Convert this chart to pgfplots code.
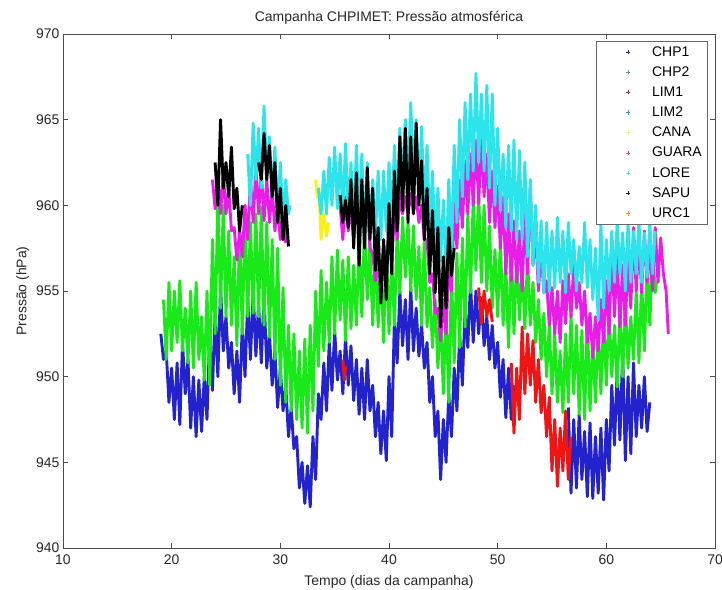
\documentclass[border=0pt]{standalone}
\usepackage{fontspec}
\setmainfont{Liberation Sans}
\usepackage{pgfplots}
\pgfplotsset{compat=1.18}
\definecolor{sBlue}{RGB}{35,35,205}
\definecolor{sGreen}{RGB}{25,232,25}
\definecolor{sMag}{RGB}{232,30,232}
\definecolor{sCyan}{RGB}{45,228,236}
\definecolor{sRed}{RGB}{240,20,20}
\definecolor{sYel}{RGB}{250,240,20}
\definecolor{lchp1}{RGB}{40,40,130}
\definecolor{lchp2}{RGB}{110,150,110}
\definecolor{llim1}{RGB}{150,40,90}
\definecolor{llim2}{RGB}{60,160,160}
\definecolor{lcana}{RGB}{240,230,140}
\definecolor{lguara}{RGB}{220,80,130}
\definecolor{llore}{RGB}{110,215,225}
\definecolor{lsapu}{RGB}{20,20,40}
\definecolor{lurc}{RGB}{230,150,60}
\newcommand{\fs}{\fontsize{14}{16}\selectfont}
\begin{document}
\begin{tikzpicture}
\begin{axis}[name=ax, scale only axis, width=652bp, height=514bp,
  xmin=10, xmax=70, ymin=940, ymax=970,
  xtick={10,20,...,70}, ytick={940,945,...,970},
  tick align=inside, major tick length=5bp,
  axis line style={black!70, line width=0.7bp},
  every tick/.style={black!70, line width=0.7bp},
  /pgf/number format/assume math mode=true,
  /pgf/number format/1000 sep={},
  tick label style={font=\fs, text=black!85},
  xticklabel style={yshift=-3bp},
  xlabel={Tempo (dias da campanha)}, ylabel={Pressão (hPa)},
  label style={font=\fs, text=black!85},
  xlabel style={yshift=-4bp},
  title={Campanha CHPIMET: Pressão atmosférica},
  title style={font=\fs, text=black!85},
  legend style={at={(1,1)}, anchor=north east, xshift=-7bp, yshift=-7bp,
    draw=black!60, line width=0.6bp, font=\fs, row sep=5bp, inner xsep=4bp, inner ysep=3bp},
  legend cell align=left,
  legend image code/.code={\path[draw=none, fill=none] (0bp,-3bp) rectangle (50bp,3bp); \draw[#1] plot coordinates {(28bp,0bp)};},
  ser/.style={line width=2.9bp, line join=round, no marks, forget plot},
  lm/.style={mark=+, mark size=2.2bp, mark options={line width=0.6bp}},
]
% CHP1 (blue)
\addplot[ser, sBlue] coordinates {(19.00,952.5)(19.25,951.0)(19.50,951.5)(19.75,948.5)(20.00,950.5)(20.25,947.5)(20.50,950.8)(20.75,947.2)(21.00,952.0)(21.25,949.0)(21.50,951.0)(21.75,947.0)(22.00,950.0)(22.25,946.5)(22.50,949.8)(22.75,946.8)(23.00,950.0)(23.25,947.5)(23.50,952.5)(23.75,949.2)(24.00,953.8)(24.25,950.0)(24.50,955.3)(24.75,951.5)(25.00,953.5)(25.25,950.5)(25.50,952.0)(25.75,949.0)(26.00,951.5)(26.25,948.5)(26.50,953.0)(26.75,950.0)(27.00,954.5)(27.25,951.0)(27.50,955.0)(27.75,951.2)(28.00,954.3)(28.25,950.8)(28.50,954.8)(28.75,950.5)(29.00,952.5)(29.25,949.5)(29.50,951.5)(29.75,948.2)(30.00,950.5)(30.25,948.0)(30.50,949.5)(30.75,946.5)(31.00,948.2)(31.25,945.8)(31.50,946.5)(31.75,943.5)(32.00,945.0)(32.25,942.6)(32.50,944.8)(32.75,942.4)(33.00,946.5)(33.25,944.0)(33.50,949.0)(33.75,947.5)(34.00,950.8)(34.25,948.0)(34.50,952.0)(34.75,949.2)(35.00,952.7)(35.25,949.8)(35.50,951.5)(35.75,949.0)(36.00,952.3)(36.25,949.5)(36.50,951.8)(36.75,948.6)(37.00,951.0)(37.25,947.8)(37.50,950.5)(37.75,947.5)(38.00,951.0)(38.25,948.0)(38.50,949.5)(38.75,946.5)(39.00,948.5)(39.25,945.5)(39.50,948.0)(39.75,945.1)(40.00,950.0)(40.25,946.5)(40.50,953.5)(40.75,950.8)(41.00,955.0)(41.25,951.8)(41.50,954.5)(41.75,951.0)(42.00,955.2)(42.25,951.5)(42.50,954.0)(42.75,951.2)(43.00,953.0)(43.25,950.5)(43.50,952.0)(43.75,948.5)(44.00,950.0)(44.25,946.5)(44.50,948.0)(44.75,944.0)(45.00,947.5)(45.25,945.0)(45.50,949.0)(45.75,946.5)(46.00,950.5)(46.25,948.0)(46.50,952.5)(46.75,949.5)(47.00,954.0)(47.25,951.7)(47.50,955.5)(47.75,952.0)(48.00,955.0)(48.25,952.5)(48.50,954.6)(48.75,951.8)(49.00,953.5)(49.25,951.0)(49.50,953.0)(49.75,950.5)(50.00,952.0)(50.25,948.8)(50.50,951.0)(50.75,947.6)(51.00,950.5)(51.25,947.5)(51.50,949.5)};
\addplot[ser, sBlue] coordinates {(56.50,948.2)(56.75,943.2)(57.00,947.5)(57.25,943.5)(57.50,947.8)(57.75,944.0)(58.00,946.8)(58.25,943.0)(58.50,947.3)(58.75,942.9)(59.00,946.5)(59.25,943.2)(59.50,947.0)(59.75,942.8)(60.00,947.5)(60.25,944.5)(60.50,949.5)(60.75,946.0)(61.00,950.5)(61.25,946.3)(61.50,951.4)(61.75,945.1)(62.00,950.0)(62.25,945.5)(62.50,950.8)(62.75,946.5)(63.00,949.5)(63.25,947.0)(63.50,950.0)(63.75,946.8)(64.00,948.5)};
% CHP2 (green)
\addplot[ser, sGreen] coordinates {(19.25,954.5)(19.50,951.0)(19.75,955.5)(20.00,951.5)(20.25,955.0)(20.50,952.0)(20.75,955.6)(21.00,951.5)(21.25,954.0)(21.50,950.8)(21.75,955.0)(22.00,950.5)(22.25,955.5)(22.50,951.0)(22.75,953.5)(23.00,949.8)(23.25,955.0)(23.50,949.5)(23.75,958.0)(24.00,952.5)(24.25,960.5)(24.50,954.0)(24.75,960.0)(25.00,953.5)(25.25,958.5)(25.50,953.0)(25.75,957.0)(26.00,951.8)(26.25,958.5)(26.50,952.5)(26.75,959.3)(27.00,953.5)(27.25,959.0)(27.50,953.7)(27.75,959.5)(28.00,953.5)(28.25,959.9)(28.50,953.0)(28.75,959.0)(29.00,952.3)(29.25,958.0)(29.50,951.0)(29.75,957.5)(30.00,949.5)(30.25,955.2)(30.50,948.5)(30.75,953.0)(31.00,948.0)(31.25,952.5)(31.50,947.5)(31.75,951.5)(32.00,947.0)(32.25,952.2)(32.50,946.7)(32.75,953.0)(33.00,948.0)(33.25,955.0)(33.50,950.6)(33.75,956.2)(34.00,951.5)(34.25,955.5)(34.50,952.0)(34.75,957.0)(35.00,952.5)(35.25,957.4)(35.50,953.3)(35.75,956.8)(36.00,952.1)(36.25,957.0)(36.50,952.8)(36.75,956.5)(37.00,953.0)(37.25,958.0)(37.50,953.5)(37.75,958.7)(38.00,954.5)(38.25,957.8)(38.50,953.0)(38.75,957.6)(39.00,952.9)(39.25,956.8)(39.50,952.0)(39.75,957.6)(40.00,952.5)(40.25,957.0)(40.50,953.0)(40.75,958.5)(41.00,954.9)(41.25,959.3)(41.50,955.8)(41.75,959.0)(42.00,955.0)(42.25,958.8)(42.50,954.5)(42.75,957.6)(43.00,953.0)(43.25,958.0)(43.50,952.9)(43.75,955.2)(44.00,951.7)(44.25,954.5)(44.50,950.5)(44.75,953.8)(45.00,949.0)(45.25,954.0)(45.50,948.5)(45.75,956.0)(46.00,950.8)(46.25,957.2)(46.50,951.7)(46.75,958.1)(47.00,952.9)(47.25,959.5)(47.50,954.9)(47.75,960.3)(48.00,956.2)(48.25,960.7)(48.50,955.5)(48.75,960.0)(49.00,955.0)(49.25,958.8)(49.50,954.0)(49.75,957.4)(50.00,953.5)(50.25,958.0)(50.50,953.0)(50.75,956.5)(51.00,951.7)(51.25,957.6)(51.50,952.5)(51.75,957.0)(52.00,953.3)(52.25,956.5)(52.50,952.8)(52.75,957.0)(53.00,953.0)(53.25,955.5)(53.50,952.0)(53.75,954.5)(54.00,951.0)(54.25,953.7)(54.50,950.0)(54.75,953.0)(55.00,949.0)(55.25,952.5)(55.50,948.5)(55.75,951.5)(56.00,947.9)(56.25,952.5)(56.50,948.5)(56.75,953.7)(57.00,949.0)(57.25,953.0)(57.50,947.8)(57.75,952.7)(58.00,947.5)(58.25,953.5)(58.50,948.0)(58.75,952.0)(59.00,948.5)(59.25,953.0)(59.50,949.0)(59.75,953.5)(60.00,949.5)(60.25,954.0)(60.50,950.0)(60.75,953.0)(61.00,949.4)(61.25,953.8)(61.50,950.0)(61.75,954.5)(62.00,950.5)(62.25,953.5)(62.50,951.0)(62.75,955.0)(63.00,950.8)(63.25,955.6)(63.50,951.5)(63.75,956.5)(64.00,953.0)(64.25,957.6)(64.50,954.9)(64.60,955.5)};
% LIM1 (magenta)
\addplot[ser, sMag] coordinates {(23.75,961.5)(24.00,959.8)(24.25,961.7)(24.50,959.5)(24.75,961.9)(25.00,959.5)(25.25,961.0)(25.50,958.5)(25.75,958.7)(26.00,956.8)(26.25,958.5)(26.50,957.0)(26.75,960.0)(27.00,958.0)(27.25,961.5)(27.50,959.0)(27.75,962.2)(28.00,959.5)(28.25,962.0)(28.50,959.1)(28.75,961.5)(29.00,959.0)(29.25,961.0)(29.50,958.5)(29.75,960.0)(30.00,958.0)(30.25,959.5)(30.50,957.8)};
\addplot[ser, sMag] coordinates {(35.50,960.0)(35.75,958.0)(36.00,960.5)(36.25,958.5)(36.50,960.0)(36.75,958.0)(37.00,960.5)(37.25,958.8)(37.50,960.7)(37.75,959.1)(38.00,960.0)(38.25,957.5)(38.50,957.2)(38.75,955.6)(39.00,957.0)(39.25,955.8)(39.50,957.5)(39.75,956.0)(40.00,958.5)(40.25,956.5)(40.50,960.0)(40.75,958.0)(41.00,960.7)(41.25,959.5)(41.50,960.5)(41.75,959.5)(42.00,960.7)(42.25,959.6)(42.50,960.5)(42.75,959.0)(43.00,960.0)(43.25,958.0)(43.50,958.0)(43.75,955.5)(44.00,956.0)(44.25,953.7)(44.50,954.0)(44.75,952.1)(45.00,954.5)(45.25,952.5)(45.50,956.5)(45.75,955.0)(46.00,960.1)(46.25,957.5)(46.50,961.5)(46.75,958.7)(47.00,962.6)(47.25,959.5)(47.50,963.0)(47.75,960.0)(48.00,963.8)(48.25,960.1)(48.50,964.0)(48.75,960.5)(49.00,963.0)(49.25,959.0)(49.50,962.0)(49.75,958.7)(50.00,961.1)(50.25,957.5)(50.50,960.5)(50.75,956.0)(51.00,959.5)(51.25,955.6)(51.50,959.1)(51.75,955.5)(52.00,958.5)(52.25,955.0)(52.50,959.5)(52.75,956.0)(53.00,961.1)(53.25,956.5)(53.50,958.5)(53.75,955.0)(54.00,957.5)(54.25,954.9)(54.50,955.6)(54.75,953.0)(55.00,955.2)(55.25,952.5)(55.50,955.0)(55.75,952.0)(56.00,955.6)(56.25,953.1)(56.50,956.0)(56.75,953.5)(57.00,956.5)(57.25,954.0)(57.50,955.5)(57.75,953.0)(58.00,955.0)(58.25,952.0)(58.50,953.7)(58.75,951.1)(59.00,953.5)(59.25,951.5)(59.50,954.5)(59.75,952.0)(60.00,955.6)(60.25,952.5)(60.50,957.6)(60.75,953.5)(61.00,957.0)(61.25,952.9)(61.50,956.5)(61.75,953.0)(62.00,957.0)(62.25,954.0)(62.50,958.7)(62.75,955.0)(63.00,958.0)(63.25,954.9)(63.50,958.5)(63.75,955.5)(64.00,957.5)(64.25,955.0)(64.50,958.7)(64.75,955.5)(65.00,958.1)(65.25,956.0)(65.50,955.0)(65.70,952.5)};
% CANA (yellow)
\addplot[ser, sYel] coordinates {(33.25,961.5)(33.40,960.5)(33.55,961.0)(33.75,958.0)(34.00,959.5)(34.25,958.2)(34.45,959.0)};
% GUARA (red)
\addplot[ser, sRed] coordinates {(35.75,951.0)(35.90,949.8)(36.00,950.6)};
\addplot[ser, sRed] coordinates {(48.25,955.2)(48.50,953.1)(48.75,955.0)(49.00,953.5)(49.25,954.5)(49.50,953.2)};
\addplot[ser, sRed] coordinates {(51.25,950.8)(51.50,946.7)(51.75,950.5)(52.00,947.5)(52.25,952.9)(52.50,949.0)(52.75,952.5)(53.00,949.5)(53.25,952.1)(53.50,948.5)(53.75,951.0)(54.00,947.9)(54.25,949.5)(54.50,946.5)(54.75,948.8)(55.00,944.5)(55.25,947.5)(55.50,943.6)(55.75,947.0)(56.00,944.5)(56.25,948.0)(56.50,944.0)(56.75,946.5)};
% LORE (cyan)
\addplot[ser, sCyan] coordinates {(27.00,963.0)(27.25,960.0)(27.50,964.8)(27.75,961.5)(28.00,964.5)(28.25,961.0)(28.50,965.8)(28.75,961.8)(29.00,964.0)(29.25,960.5)(29.50,963.4)(29.75,959.5)(30.00,962.5)(30.25,959.1)(30.50,961.5)(30.75,959.5)(30.90,960.0)};
\addplot[ser, sCyan] coordinates {(33.50,961.0)(33.75,959.5)(34.00,962.0)(34.25,959.5)(34.50,962.8)(34.75,960.0)(35.00,963.4)(35.25,959.8)(35.50,963.0)(35.75,959.5)(36.00,963.6)(36.25,959.5)(36.50,962.5)(36.75,958.5)(37.00,963.5)(37.25,959.0)(37.50,963.0)(37.75,958.0)(38.00,962.5)(38.25,958.5)(38.50,961.5)(38.75,958.0)(39.00,962.0)(39.25,958.0)(39.50,962.0)(39.75,958.5)(40.00,962.5)(40.25,959.0)(40.50,963.5)(40.75,960.0)(41.00,964.5)(41.25,961.0)(41.50,965.0)(41.75,961.5)(42.00,966.0)(42.25,961.7)(42.50,965.0)(42.75,960.5)(43.00,964.6)(43.25,959.5)(43.50,963.5)(43.75,958.5)(44.00,962.0)(44.25,957.5)(44.50,961.0)(44.75,956.8)(45.00,960.3)(45.25,956.0)(45.50,961.5)(45.75,957.0)(46.00,963.5)(46.25,959.0)(46.50,965.0)(46.75,960.5)(47.00,966.0)(47.25,961.5)(47.50,966.5)(47.75,962.0)(48.00,967.7)(48.25,962.5)(48.50,966.5)(48.75,962.0)(49.00,967.0)(49.25,961.0)(49.50,966.5)(49.75,960.0)(50.00,964.5)(50.25,959.7)(50.50,963.0)(50.75,958.7)(51.00,963.5)(51.25,958.5)(51.50,963.8)(51.75,958.0)(52.00,963.2)(52.25,958.0)(52.50,962.5)(52.75,957.0)(53.00,961.5)(53.25,956.5)(53.50,960.0)(53.75,955.5)(54.00,959.1)(54.25,954.9)(54.50,959.0)(54.75,955.0)(55.00,958.5)(55.25,955.2)(55.50,959.3)(55.75,955.5)(56.00,958.5)(56.25,954.9)(56.50,959.0)(56.75,956.0)(57.00,958.0)(57.25,955.0)(57.50,957.6)(57.75,955.5)(58.00,959.0)(58.25,955.2)(58.50,958.0)(58.75,954.5)(59.00,957.5)(59.25,953.3)(59.50,959.0)(59.75,954.0)(60.00,958.0)(60.25,955.0)(60.50,958.5)(60.75,955.5)(61.00,959.1)(61.25,956.0)(61.50,958.4)(61.75,955.0)(62.00,959.0)(62.25,955.5)(62.50,958.5)(62.75,956.0)(63.00,959.1)(63.25,955.5)(63.50,958.4)(63.75,955.8)(64.00,959.0)(64.25,956.0)(64.50,958.5)};
% SAPU (black)
\addplot[ser, black] coordinates {(24.00,962.5)(24.25,960.0)(24.50,965.0)(24.75,961.0)(25.00,962.5)(25.25,960.5)(25.50,963.4)(25.75,959.8)(26.00,961.0)(26.25,958.5)(26.50,960.0)};
\addplot[ser, black] coordinates {(28.00,962.5)(28.25,961.5)(28.50,964.2)(28.75,961.5)(29.00,963.5)(29.25,960.5)(29.50,962.5)(29.75,959.0)(30.00,961.0)(30.25,958.0)(30.50,960.0)(30.75,957.6)};
\addplot[ser, black] coordinates {(35.50,960.6)(35.75,959.0)(36.00,960.3)(36.25,958.7)(36.50,961.5)(36.75,957.5)(37.00,961.9)(37.25,956.5)(37.50,961.5)(37.75,957.5)(38.00,962.2)(38.25,958.0)(38.50,961.0)(38.75,956.2)(39.00,958.7)(39.25,954.3)(39.50,958.0)(39.75,954.5)(40.00,960.1)(40.25,956.0)(40.50,962.0)(40.75,958.5)(41.00,964.0)(41.25,959.7)(41.50,964.5)(41.75,959.0)(42.00,964.0)(42.25,959.5)(42.50,964.8)(42.75,960.0)(43.00,962.6)(43.25,958.0)(43.50,961.0)(43.75,956.0)(44.00,959.7)(44.25,954.9)(44.50,958.7)(44.75,952.9)(45.00,957.0)(45.25,954.0)(45.50,958.7)(45.75,955.9)(46.00,957.5)};
% legend
\addlegendimage{lm, lchp1}\addlegendentry{CHP1}
\addlegendimage{lm, lchp2}\addlegendentry{CHP2}
\addlegendimage{lm, llim1}\addlegendentry{LIM1}
\addlegendimage{lm, llim2}\addlegendentry{LIM2}
\addlegendimage{lm, lcana}\addlegendentry{CANA}
\addlegendimage{lm, lguara}\addlegendentry{GUARA}
\addlegendimage{lm, llore}\addlegendentry{LORE}
\addlegendimage{lm, lsapu}\addlegendentry{SAPU}
\addlegendimage{lm, lurc}\addlegendentry{URC1}
\end{axis}
\pgfresetboundingbox
\path[use as bounding box] ([xshift=-63bp,yshift=-41bp]ax.south west) rectangle ([xshift=7bp,yshift=34bp]ax.north east);
\end{tikzpicture}
\end{document}
